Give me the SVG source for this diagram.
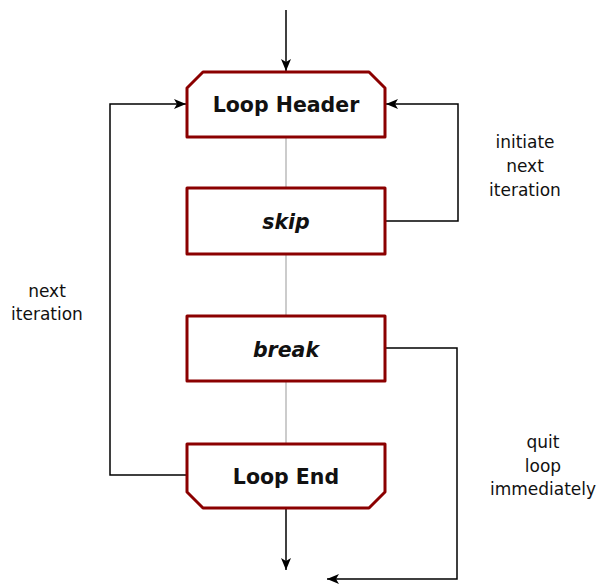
<svg xmlns="http://www.w3.org/2000/svg" width="601" height="586" viewBox="0 0 601 586">
<style>
.node{fill:#fff;stroke:#8b0000;stroke-width:3;stroke-linejoin:round}
.lbl{font-family:"DejaVu Sans",sans-serif;font-weight:bold;font-size:20.5px;fill:#111;text-anchor:middle}
.it{font-style:italic}
.ann{font-family:"DejaVu Sans",sans-serif;font-size:17px;fill:#111;text-anchor:middle}
.c{fill:none;stroke:#000;stroke-width:1.5}
.g{fill:none;stroke:#bbb;stroke-width:1.5}
</style>
<defs>
<marker id="ah" viewBox="0 0 12 10" refX="12" refY="5" markerWidth="12" markerHeight="10" markerUnits="userSpaceOnUse" orient="auto">
<path d="M0,0 L12,5 L0,10 L3,5 z" fill="#000"/>
</marker>
</defs>
<g id="connectors">
<line class="g" x1="286" y1="137" x2="286" y2="188"/>
<line class="g" x1="286" y1="254" x2="286" y2="316"/>
<line class="g" x1="286" y1="381" x2="286" y2="444"/>
<line class="c" x1="286" y1="10" x2="286" y2="71" marker-end="url(#ah)"/>
<line class="c" x1="286" y1="509" x2="286" y2="570" marker-end="url(#ah)"/>
<polyline class="c" points="187,475 110,475 110,104 186,104" marker-end="url(#ah)"/>
<polyline class="c" points="385,221 458,221 458,104 386,104" marker-end="url(#ah)"/>
<polyline class="c" points="385,348 457,348 457,579 327,579" marker-end="url(#ah)"/>
</g>
<g id="loop-header">
<polygon class="node" points="203,72 369,72 385,88 385,137 187,137 187,88"/>
<text class="lbl" x="286" y="112">Loop Header</text>
</g>
<g id="skip">
<rect class="node" x="187" y="188" width="198" height="66"/>
<text class="lbl it" x="286" y="229">skip</text>
</g>
<g id="break">
<rect class="node" x="187" y="316" width="198" height="65"/>
<text class="lbl it" x="286" y="357">break</text>
</g>
<g id="loop-end">
<polygon class="node" points="187,444 385,444 385,492 369,508 203,508 187,492"/>
<text class="lbl" x="286" y="484">Loop End</text>
</g>
<g id="labels">
<text class="ann" x="525" y="148">initiate</text>
<text class="ann" x="525" y="172">next</text>
<text class="ann" x="525" y="196">iteration</text>
<text class="ann" x="47" y="297">next</text>
<text class="ann" x="47" y="320">iteration</text>
<text class="ann" x="543" y="448">quit</text>
<text class="ann" x="543" y="472">loop</text>
<text class="ann" x="543" y="495">immediately</text>
</g>
</svg>
